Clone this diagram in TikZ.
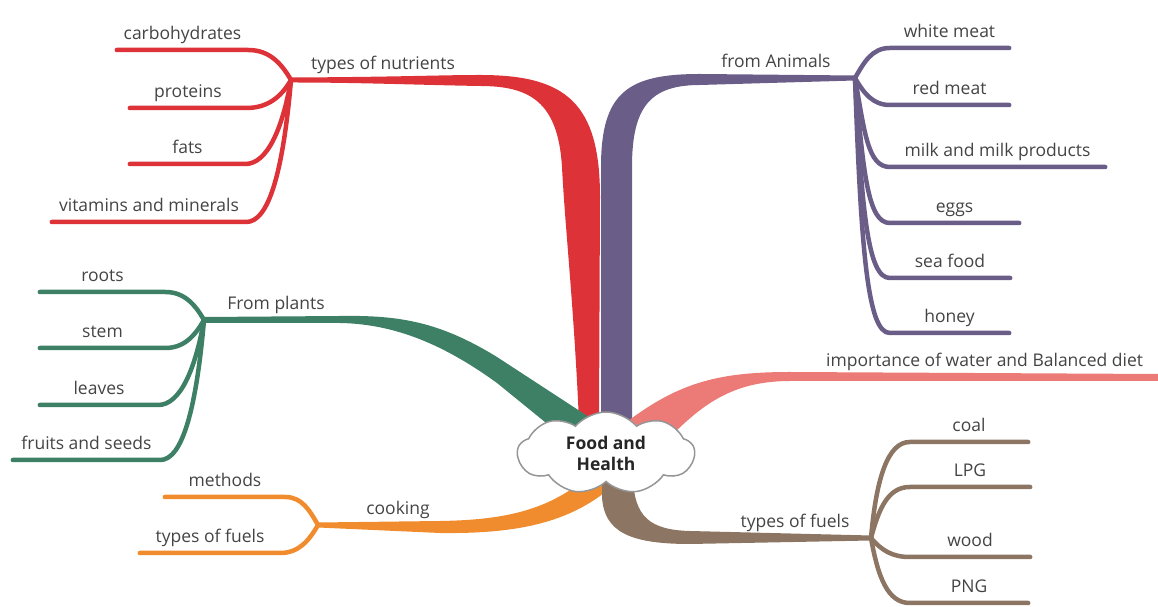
\documentclass[tikz,border=0pt]{standalone}
\usepackage{fontspec}
\setmainfont{Open Sans}
\usetikzlibrary{shapes.symbols}

\definecolor{nutrRed}{RGB}{221,50,56}
\definecolor{animPurple}{RGB}{106,93,136}
\definecolor{plantGreen}{RGB}{61,128,102}
\definecolor{waterPink}{RGB}{236,122,118}
\definecolor{cookOrange}{RGB}{240,140,45}
\definecolor{fuelBrown}{RGB}{140,117,98}
\definecolor{txtGray}{RGB}{68,68,68}
\definecolor{cloudGray}{RGB}{150,150,150}

\begin{document}
\begin{tikzpicture}[x=1pt, y=1pt,
    lbl/.style={font=\fontsize{17.5}{21}\selectfont, text=txtGray, anchor=south,
                inner xsep=0pt, inner ysep=6pt, text height=13.5pt, text depth=4.5pt},
    twig/.style={line width=4.5pt, line cap=round},
    sprout/.style={out distance=#1, in distance=22}]
    \useasboundingbox (0,0) rectangle (1158,607);
    % Hubs of the main branches
    \coordinate (nutr)  at (291,527);
    \coordinate (anim)  at (855,529);
    \coordinate (plant) at (204,287);
    \coordinate (cook)  at (318,82);
    \coordinate (fuel)  at (871,69);
    \coordinate (water) at (1158,229.5);
    % Draw the thick branches
    \fill[nutrRed] ([yshift=2.5]nutr) .. controls (400,530) and (440,532) .. (480,532)
        .. controls (565,532) and (600,505) .. (600,410) -- (599,185) -- (579,185)
        .. controls (574,300) and (565,380) .. (562,440)
        .. controls (558,505) and (530,521) .. (480,521)
        .. controls (420,522) and (360,524.5) .. ([yshift=-2.5]nutr) -- cycle;
    \fill[animPurple] ([yshift=2.5]anim) -- (700,533) .. controls (628,533) and (601,515) .. (601,440)
        -- (601,185) -- (632,185) -- (632,440) .. controls (632,500) and (650,522) .. (700,522)
        -- ([yshift=-2.5]anim) -- cycle;
    \fill[waterPink] (628,186) .. controls (680,225) and (720,235) .. (790,235)
        -- ([yshift=3.5]water) -- ([yshift=-3.5]water) -- (790,226)
        .. controls (730,226) and (700,200) .. (668,168) -- cycle;
    \fill[plantGreen] ([yshift=3]plant) -- (340,291) .. controls (400,292) and (440,285) .. (497,250)
        -- (592,188) -- (572,163) -- (497,224) .. controls (450,258) and (400,283) .. (340,284)
        -- ([yshift=-3]plant) -- cycle;
    \fill[cookOrange] ([yshift=2.5]cook) -- (440,86) .. controls (500,87) and (545,95) .. (585,128)
        -- (618,126) .. controls (575,85) and (520,73) .. (440,74) -- ([yshift=-2.5]cook) -- cycle;
    \fill[fuelBrown] (602,130) -- (602,110) .. controls (604,75) and (630,63) .. (690,63)
        -- ([yshift=-2.5]fuel) -- ([yshift=2.5]fuel) -- (690,76)
        .. controls (650,77) and (634,90) .. (633,130) -- cycle;
    % Draw the centre cloud
    \node[cloud, cloud puffs=9, cloud puff arc=100, aspect=2.2, draw=cloudGray, line width=1.5pt,
          fill=white, minimum width=177, minimum height=82, inner sep=0pt, align=center,
          font=\fontsize{17.5}{21}\selectfont\bfseries, text=black!85] (hub) at (606,154) {Food and\\Health};
    % Branch labels
    \node[lbl] (nutrL) at (383,527) {types of nutrients};
    \node[lbl] (animL) at (776,529) {from Animals};
    \node[lbl] (plantL) at (276,287) {From plants};
    \node[lbl] (cookL) at (398,82) {cooking};
    \node[lbl] (fuelL) at (795,69) {types of fuels};
    \node[lbl, anchor=south west] (waterL) at (826,229.5) {importance of water and Balanced diet};
    % Draw the nutrient twigs
    \node[lbl, minimum width=131] (carb) at (182.5,557) {carbohydrates};
    \node[lbl, minimum width=116] (prot) at (188,499) {proteins};
    \node[lbl, minimum width=115] (fats) at (187.5,443) {fats};
    \node[lbl, minimum width=194] (vita) at (149,385) {vitamins and minerals};
    \draw[twig, nutrRed] (nutr) to[out=120,in=0] (carb.south east) -- (carb.south west);
    \draw[twig, nutrRed] (nutr) to[out=-120,in=0] (prot.south east) -- (prot.south west);
    \draw[twig, nutrRed] (nutr) to[out=-100,in=0,sprout=50] (fats.south east) -- (fats.south west);
    \draw[twig, nutrRed] (nutr) to[out=-95,in=0,sprout=95] (vita.south east) -- (vita.south west);
    % Draw the animal twigs
    \node[lbl, minimum width=119] (white) at (949.5,559) {white meat};
    \node[lbl, minimum width=119] (redm) at (949.5,502) {red meat};
    \node[lbl, minimum width=215] (milk) at (997.5,440) {milk and milk products};
    \node[lbl, minimum width=129] (eggs) at (954.5,384) {eggs};
    \node[lbl, minimum width=120] (sea) at (950,329) {sea food};
    \node[lbl, minimum width=119] (honey) at (949.5,274) {honey};
    \draw[twig, animPurple] (anim) to[out=60,in=180] (white.south west) -- (white.south east);
    \draw[twig, animPurple] (anim) to[out=-60,in=180] (redm.south west) -- (redm.south east);
    \draw[twig, animPurple] (anim) to[out=-80,in=180,sprout=55] (milk.south west) -- (milk.south east);
    \draw[twig, animPurple] (anim) to[out=-85,in=180,sprout=95] (eggs.south west) -- (eggs.south east);
    \draw[twig, animPurple] (anim) to[out=-87,in=180,sprout=135] (sea.south west) -- (sea.south east);
    \draw[twig, animPurple] (anim) to[out=-88,in=180,sprout=175] (honey.south west) -- (honey.south east);
    % Draw the plant twigs
    \node[lbl, minimum width=125] (roots) at (102.5,315) {roots};
    \node[lbl, minimum width=125] (stem) at (102.5,259) {stem};
    \node[lbl, minimum width=118] (leaves) at (99,202) {leaves};
    \node[lbl, minimum width=147] (fruit) at (86.5,147) {fruits and seeds};
    \draw[twig, plantGreen] (plant) to[out=120,in=0] (roots.south east) -- (roots.south west);
    \draw[twig, plantGreen] (plant) to[out=-120,in=0] (stem.south east) -- (stem.south west);
    \draw[twig, plantGreen] (plant) to[out=-100,in=0,sprout=50] (leaves.south east) -- (leaves.south west);
    \draw[twig, plantGreen] (plant) to[out=-95,in=0,sprout=90] (fruit.south east) -- (fruit.south west);
    % Draw the cooking twigs
    \node[lbl, minimum width=120] (meth) at (225,110) {methods};
    \node[lbl, minimum width=140] (cfuel) at (210,54) {types of fuels};
    \draw[twig, cookOrange] (cook) to[out=120,in=0] (meth.south east) -- (meth.south west);
    \draw[twig, cookOrange] (cook) to[out=-120,in=0] (cfuel.south east) -- (cfuel.south west);
    % Draw the fuel twigs
    \node[lbl, minimum width=118] (coal) at (969,165) {coal};
    \node[lbl, minimum width=120] (lpg) at (970,120) {LPG};
    \node[lbl, minimum width=120] (wood) at (970,50) {wood};
    \node[lbl, minimum width=118] (png) at (969,4) {PNG};
    \draw[twig, fuelBrown] (fuel) to[out=85,in=180,sprout=60] (coal.south west) -- (coal.south east);
    \draw[twig, fuelBrown] (fuel) to[out=75,in=180,sprout=30] (lpg.south west) -- (lpg.south east);
    \draw[twig, fuelBrown] (fuel) to[out=-50,in=180] (wood.south west) -- (wood.south east);
    \draw[twig, fuelBrown] (fuel) to[out=-80,in=180,sprout=40] (png.south west) -- (png.south east);
\end{tikzpicture}
\end{document}
